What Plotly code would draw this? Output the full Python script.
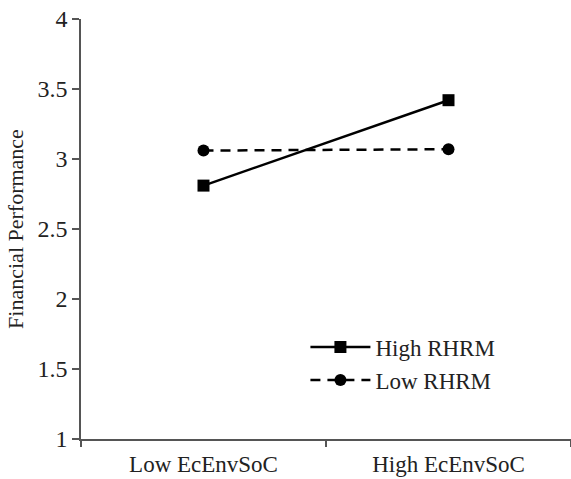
import plotly.graph_objects as go

categories = ["Low EcEnvSoC", "High EcEnvSoC"]
high_rhrm = [2.81, 3.42]
low_rhrm = [3.06, 3.07]
y_ticks = [1, 1.5, 2, 2.5, 3, 3.5, 4]
y_tick_labels = ["1", "1.5", "2", "2.5", "3", "3.5", "4"]

FONT = "Liberation Serif, Times New Roman, serif"

fig = go.Figure()
fig.add_trace(go.Scatter(
    x=categories, y=high_rhrm, name="High RHRM", mode="lines+markers",
    line=dict(color="black", width=2.5),
    marker=dict(symbol="square", size=12, color="black"),
))
fig.add_trace(go.Scatter(
    x=categories, y=low_rhrm, name="Low RHRM", mode="lines+markers",
    line=dict(color="black", width=2.5, dash="10px,7px"),
    marker=dict(symbol="circle", size=12, color="black"),
))

fig.update_layout(
    width=571, height=479,
    margin=dict(l=81, r=0, t=19, b=40, autoexpand=False),
    paper_bgcolor="white", plot_bgcolor="white",
    font=dict(family=FONT, size=23, color="#222"),
    showlegend=True,
    legend=dict(x=0.458, y=0.27, xanchor="left", yanchor="top",
                bgcolor="rgba(0,0,0,0)", font=dict(size=23, color="#222"),
                itemwidth=60, tracegroupgap=0),
)
fig.update_xaxes(
    type="category", range=[-0.5, 1.5], tickson="boundaries",
    ticks="outside", ticklen=6, tickcolor="#555", tickwidth=1.5,
    showline=True, linecolor="#555", linewidth=1.5,
    showgrid=False, zeroline=False, tickfont=dict(size=23),
    ticklabelstandoff=4,
    automargin=False,
)
fig.update_yaxes(
    range=[1, 4], tickvals=y_ticks, ticktext=y_tick_labels,
    ticks="outside", ticklen=7, tickcolor="#555", tickwidth=1.5,
    showline=True, linecolor="#555", linewidth=1.5,
    showgrid=False, zeroline=False, tickfont=dict(size=24),
    title=dict(text="Financial Performance", font=dict(size=22), standoff=8),
    automargin=False,
)

fig.write_html(
    "out.html",
    config={"displayModeBar": False},
    post_script="document.body.style.margin='0';document.body.style.padding='0';",
)
